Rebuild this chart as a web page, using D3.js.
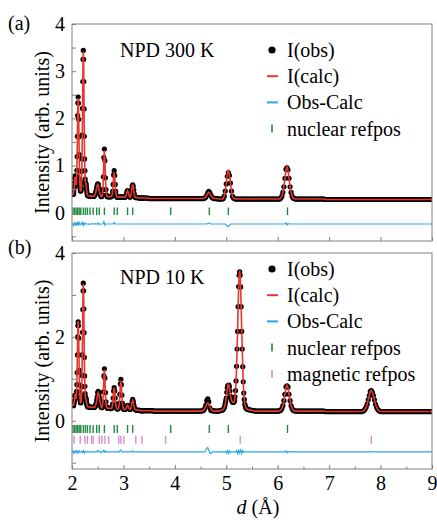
<!DOCTYPE html>
<html>
<head>
<meta charset="utf-8">
<script src="https://cdn.jsdelivr.net/npm/d3@7"></script>
<style>
  body { margin: 0; background: #fff; }
</style>
</head>
<body>
<svg id="chart" width="437" height="520"></svg>
<script>
// measurement grids: [start d, step] for each block of values (d in Angstrom)
const grid300 = [[2.000, 0.005], [2.30, 0.01], [3.42, 0.02]];
const grid10 = [[2.000, 0.005], [2.30, 0.01], [3.42, 0.02], [4.96, 0.01], [5.42, 0.02]];

// I(calc) x100, NPD 300 K
const calc300A1 = [   // 2.000 - 2.295
  40,40,40,40,40,41,41,44,49,56,
  67,73,76,74,68,62,59,62,74,90,
  122,162,202,233,243,232,201,161,121,88,
  71,58,50,46,46,47,52,64,86,114,
  162,221,281,325,342,325,280,220,161,114,
  89,71,64,62,61,58,54,49,44,40
];
const calc300A2 = [   // 2.30 - 3.40
  37,36,36,36,36,36,35,35,35,35,
  35,35,35,35,37,39,42,47,53,58,
  60,58,53,47,41,38,36,34,35,38,
  49,74,112,132,112,74,49,38,35,34,
  34,34,34,34,34,34,34,35,37,45,
  60,78,86,78,60,45,37,34,33,33,
  33,33,33,33,33,33,33,33,33,33,
  33,33,33,33,34,36,40,45,47,45,
  40,36,34,33,35,40,48,56,59,56,
  48,40,35,33,32,32,32,32,32,32,
  32,31,31,31,31,31,31,31,31,31,
  31
];
const calc300B = [    // 3.42 - 9.00
  31,31,31,31,30,30,30,30,30,30,
  30,30,30,30,30,30,30,30,30,30,
  30,30,30,30,30,30,30,30,30,30,
  30,30,30,30,30,30,30,30,30,30,
  30,30,30,30,30,30,30,30,30,30,
  30,30,30,30,30,30,30,30,31,33,
  37,41,43,41,37,33,31,30,30,30,
  30,29,29,29,29,29,30,35,46,63,
  82,91,82,63,46,35,31,30,29,29,
  29,29,29,29,29,29,29,29,29,29,
  29,29,29,29,29,29,29,29,29,29,
  29,29,29,29,29,29,29,29,29,29,
  29,29,29,29,29,29,29,29,29,29,
  29,29,31,35,43,55,73,90,97,90,
  73,55,43,35,31,30,29,29,29,29,
  29,29,29,29,29,29,29,29,29,29,
  29,29,29,29,29,29,29,29,29,29,
  29,29,29,29,29,28,28,28,28,28,
  28,28,28,28,28,28,28,28,28,28,
  28,28,28,28,28,28,28,28,28,28,
  28,28,28,28,28,28,28,28,28,28,
  28,28,28,28,28,28,28,28,28,28,
  28,28,28,28,28,28,28,28,28,28,
  28,28,28,28,28,28,28,28,28,28,
  28,28,28,28,28,28,28,28,28,28,
  28,28,28,28,28,28,28,28,28,28,
  28,28,28,28,28,28,28,28,28,28,
  28,28,28,28,28,28,28,28,28,28
];

// I(calc) x100, NPD 10 K
const calc10A1 = [    // 2.000 - 2.295
  37,37,37,37,37,38,38,40,43,48,
  56,60,62,61,57,54,52,57,70,86,
  118,157,197,227,238,227,197,157,118,85,
  68,56,47,43,43,44,49,60,81,108,
  154,211,268,310,326,310,267,210,153,107,
  82,65,57,54,53,51,47,43,39,37
];
const calc10A2 = [    // 2.30 - 3.40
  34,33,33,33,33,33,32,32,32,32,
  32,32,32,32,32,34,37,41,49,57,
  64,67,64,57,49,41,36,32,31,34,
  44,67,103,122,103,67,44,34,31,30,
  30,30,30,30,30,29,29,30,32,40,
  54,71,79,71,54,40,32,29,28,28,
  29,32,42,61,84,95,84,61,42,32,
  29,27,27,27,28,29,32,35,37,35,
  32,29,28,27,29,33,39,46,49,46,
  39,33,29,27,26,26,25,25,25,25,
  25,25,25,24,24,24,24,24,24,24,
  24
];
const calc10B1 = [    // 3.42 - 4.94
  24,24,24,24,24,24,24,24,23,23,
  23,23,23,23,23,23,23,23,23,23,
  23,23,23,23,23,23,23,23,23,23,
  23,23,23,23,23,23,23,23,23,23,
  23,23,23,23,23,23,23,23,23,23,
  23,23,23,23,23,23,24,25,29,34,
  40,42,40,34,29,25,24,23,23,23,
  23,23,23,24,25,25,27
];
const calc10B2 = [    // 4.96 - 5.40
  31,35,41,48,57,68,76,84,87,85,
  79,71,60,56,50,47,45,44,44,45,
  48,57,72,95,127,171,217,272,315,347,
  358,347,315,272,217,171,126,93,67,51,
  40,35,31,30,28
];
const calc10B3 = [    // 5.42 - 9.00
  27,26,26,25,25,24,24,23,23,23,
  23,23,23,23,23,23,23,23,23,23,
  23,23,23,23,23,23,23,23,23,23,
  23,24,25,29,36,48,63,79,85,79,
  63,48,36,29,25,24,23,23,23,23,
  23,23,23,23,23,23,23,23,23,23,
  23,23,23,23,23,23,23,23,23,23,
  23,23,23,23,23,22,22,22,22,22,
  22,22,22,22,22,22,22,22,22,22,
  22,22,22,22,22,22,22,22,22,22,
  22,22,22,22,22,22,22,22,22,22,
  22,22,23,25,28,33,40,50,60,69,
  72,69,60,50,40,33,28,25,23,22,
  22,22,22,22,22,22,22,22,22,22,
  22,22,22,22,22,22,22,22,22,22,
  22,22,22,22,22,22,22,22,22,22,
  22,22,22,22,22,22,22,22,22,22,
  22,22,22,22,22,22,22,22,22,22
];

// obs - calc (x100), only where it is not ~0
const resid300 = [[2.03,-2],[2.04,3],[2.05,-3],[2.06,2],[2.08,-2],[2.09,3],[2.10,-3],[2.11,4],
  [2.12,2],[2.13,-3],[2.14,2],[2.16,-1],[2.19,2],[2.20,3],[2.21,-3],[2.22,2],[2.23,-2],[2.24,1],
  [2.27,1],[2.33,-1],[2.40,1],[2.46,1],[2.50,1],[2.51,2],[2.52,-1],[2.61,2],[2.62,5],[2.63,3],
  [2.64,-2],[2.81,2],[2.82,3],[2.83,1],[4.64,1],[4.66,2],[4.68,1],[5.00,-2],[5.02,-5],[5.04,-6],
  [5.06,-3],[6.16,2],[6.18,-2],[6.20,1]];
const resid10 = [[2.02,2],[2.03,-2],[2.05,3],[2.06,-2],[2.08,2],[2.10,-3],[2.11,3],[2.12,-2],
  [2.14,2],[2.20,3],[2.21,-3],[2.22,2],[2.24,-2],[2.27,1],[2.50,3],[2.51,3],[2.52,1],[2.56,-2],
  [2.61,2],[2.62,4],[2.63,2],[2.64,-1],[2.66,1],[2.93,2],[2.94,4],[2.95,4],[2.96,2],[3.17,1],
  [3.18,2],[4.60,3],[4.62,8],[4.64,10],[4.66,5],[4.68,-3],[4.70,-4],[4.72,-1],[5.00,-3],[5.02,3],
  [5.04,-4],[5.06,2],[5.08,-2],[5.20,3],[5.22,-4],[5.24,5],[5.26,-3],[5.28,4],[5.30,-4],[5.32,3],
  [5.34,-1],[6.16,2],[6.18,-2],[6.20,1],[7.80,1],[7.84,-1]];

// where the difference curve sits
const diffShift300 = -0.24;
const diffShift10 = -0.74;

// reflection positions (d)
const nuclearRefpos = [2.02,2.05,2.08,2.11,2.14,2.17,2.22,2.26,2.30,2.35,2.41,2.48,2.53,2.63,
  2.82,2.88,3.08,3.18,3.92,4.67,5.04,6.19];
const magneticRefpos = [2.04,2.16,2.25,2.30,2.38,2.41,2.53,2.58,2.64,2.71,2.91,2.95,3.01,3.24,
  3.36,3.82,5.27,7.82];

const xTicks = [2,3,4,5,6,7,8,9];
const xMinorTicks = [2.5,3.5,4.5,5.5,6.5,7.5,8.5];
const yTicks300 = [-0.5,0,0.5,1,1.5,2,2.5,3,3.5,4];
const yLabels300 = [0,1,2,3,4];
const yTicks10 = [-1,0,1,2,3,4];
const yLabels10 = [0,2,4];

const legend300 = ['I(obs)', 'I(calc)', 'Obs-Calc', 'nuclear refpos'];
const legend10 = ['I(obs)', 'I(calc)', 'Obs-Calc', 'nuclear refpos', 'magnetic refpos'];

// colors
const cObs = '#000',
      cCalc = '#e8362f',
      cDiff = '#2aa5e6',
      cNuc = '#22893f',
      cMag = '#d98bd0',
      cFrame = '#808080';

const serif = "'Liberation Serif', 'Times New Roman', serif";

let svg = d3.select('#chart');

let left = 72, right = 432;
let x = d3.scaleLinear().domain([2, 9]).range([left, right]);

let buildProfile = (grid, blocks, resid, shift) => {
    let rmap = new Map(resid.map(r => [r[0].toFixed(3), r[1]]));
    let rows = [];
    blocks.forEach((arr, b) => {
        let [start, step] = grid[b];
        arr.forEach((v, i) => {
            let key = (start + i * step).toFixed(3);
            let r = rmap.get(key) || 0;
            rows.push({ d: +key, calc: v / 100, obs: (v + r) / 100, diff: shift + r / 100 });
        });
    });
    return rows;
};

let addText = (sel, size) => sel.style('font-family', serif).style('font-size', size + 'px');

let drawPanel = (p) => {
    let y = d3.scaleLinear().domain(p.yDomain).range([p.bottom, p.top]);
    let g = svg.append('g');

    g.append('clipPath')
        .attr('id', p.id + '-clip')
        .append('rect')
        .attr('x', left).attr('y', p.top)
        .attr('width', right - left).attr('height', p.bottom - p.top);

    let plot = g.append('g').attr('clip-path', 'url(#' + p.id + '-clip)');

    // reflection markers
    p.refs.forEach(ref => {
        plot.selectAll(null)
            .data(ref.pos)
            .enter()
            .append('line')
            .attr('x1', d => x(d)).attr('x2', d => x(d))
            .attr('y1', y(ref.lo)).attr('y2', y(ref.hi))
            .attr('stroke', ref.color)
            .attr('stroke-width', 1.4);
    });

    // difference curve
    plot.append('path')
        .datum(p.rows)
        .attr('fill', 'none')
        .attr('stroke', cDiff)
        .attr('stroke-width', 1.2)
        .attr('d', d3.line().x(d => x(d.d)).y(d => y(d.diff)));

    // observed points
    plot.selectAll('circle.obs')
        .data(p.rows)
        .enter()
        .append('circle')
        .attr('class', 'obs')
        .attr('cx', d => x(d.d))
        .attr('cy', d => y(d.obs))
        .attr('r', 2.6)
        .attr('fill', cObs);

    // calculated profile on top
    plot.append('path')
        .datum(p.rows)
        .attr('fill', 'none')
        .attr('stroke', cCalc)
        .attr('stroke-width', 1.6)
        .attr('d', d3.line().x(d => x(d.d)).y(d => y(d.calc)));

    // axes (ticks inward)
    let xAxis = d3.axisBottom(x)
        .tickValues(xTicks)
        .tickSize(-4)
        .tickSizeOuter(0)
        .tickPadding(7)
        .tickFormat(p.xLabels ? d3.format('d') : () => '');
    let xa = g.append('g')
        .attr('transform', 'translate(0,' + p.bottom + ')')
        .call(xAxis);
    if (p.xMinor) {
        g.append('g')
            .attr('transform', 'translate(0,' + p.bottom + ')')
            .call(d3.axisBottom(x).tickValues(xMinorTicks).tickSize(-2.5).tickSizeOuter(0).tickFormat(() => ''))
            .call(a => a.select('.domain').remove())
            .selectAll('line').attr('stroke', cFrame);
    }

    let yAxis = d3.axisLeft(y)
        .tickValues(p.yTicks)
        .tickSize(-4)
        .tickSizeOuter(0)
        .tickPadding(7)
        .tickFormat(d => p.yLabels.includes(d) ? d : '');
    let ya = g.append('g')
        .attr('transform', 'translate(' + left + ',0)')
        .call(yAxis);

    [xa, ya].forEach(a => {
        a.attr('font-family', null).attr('font-size', null);
        a.select('.domain').remove();
        a.selectAll('line').attr('stroke', cFrame);
        addText(a.selectAll('text').attr('fill', '#000'), 20);
    });

    // frame
    g.append('rect')
        .attr('x', left).attr('y', p.top)
        .attr('width', right - left).attr('height', p.bottom - p.top)
        .attr('fill', 'none')
        .attr('stroke', cFrame)
        .attr('stroke-width', 1);

    // y label
    addText(g.append('text'), 20)
        .attr('transform', 'translate(49,' + ((p.top + p.bottom) / 2) + ') rotate(-90)')
        .attr('text-anchor', 'middle')
        .text('Intensity (arb. units)');

    // panel letter
    addText(g.append('text'), 20)
        .attr('x', 8).attr('y', p.letterY)
        .text(p.letter);

    // title
    addText(g.append('text'), 20)
        .attr('x', 120).attr('y', p.titleY)
        .text(p.title);

    // legend
    let lg = g.append('g');
    p.legend.forEach((name, i) => {
        let ly = p.legendY + i * 26.2;
        if (name === 'I(obs)') {
            lg.append('circle').attr('cx', 272).attr('cy', ly).attr('r', 3.6).attr('fill', cObs);
        } else if (name === 'I(calc)' || name === 'Obs-Calc') {
            lg.append('line')
                .attr('x1', 267).attr('x2', 278).attr('y1', ly).attr('y2', ly)
                .attr('stroke', name === 'I(calc)' ? cCalc : cDiff)
                .attr('stroke-width', 2);
        } else {
            lg.append('line')
                .attr('x1', 272).attr('x2', 272).attr('y1', ly - 4).attr('y2', ly + 4)
                .attr('stroke', name.startsWith('nuclear') ? cNuc : cMag)
                .attr('stroke-width', 1.6);
        }
        addText(lg.append('text'), 20)
            .attr('x', 287).attr('y', ly + 7)
            .text(name);
    });
};

let rows300 = buildProfile(grid300, [calc300A1, calc300A2, calc300B], resid300, diffShift300);
let rows10 = buildProfile(grid10, [calc10A1, calc10A2, calc10B1, calc10B2, calc10B3], resid10, diffShift10);

drawPanel({
    id: 'p300', top: 24, bottom: 241, yDomain: [-0.6, 4],
    rows: rows300,
    refs: [{ pos: nuclearRefpos, lo: -0.05, hi: 0.11, color: cNuc }],
    yTicks: yTicks300, yLabels: yLabels300,
    xLabels: false, xMinor: false,
    letter: '(a)', letterY: 30,
    title: 'NPD 300 K', titleY: 57,
    legend: legend300, legendY: 50
});

drawPanel({
    id: 'p10', top: 253, bottom: 469, yDomain: [-1.15, 4],
    rows: rows10,
    refs: [{ pos: nuclearRefpos, lo: -0.29, hi: -0.1, color: cNuc },
           { pos: magneticRefpos, lo: -0.55, hi: -0.36, color: cMag }],
    yTicks: yTicks10, yLabels: yLabels10,
    xLabels: true, xMinor: true,
    letter: '(b)', letterY: 254,
    title: 'NPD 10 K', titleY: 284,
    legend: legend10, legendY: 269
});

// x label
let xl = addText(svg.append('text'), 20)
    .attr('x', 258)
    .attr('y', 514)
    .attr('text-anchor', 'middle');
xl.append('tspan').style('font-style', 'italic').text('d');
xl.append('tspan').text(' (Å)');
</script>
</body>
</html>
